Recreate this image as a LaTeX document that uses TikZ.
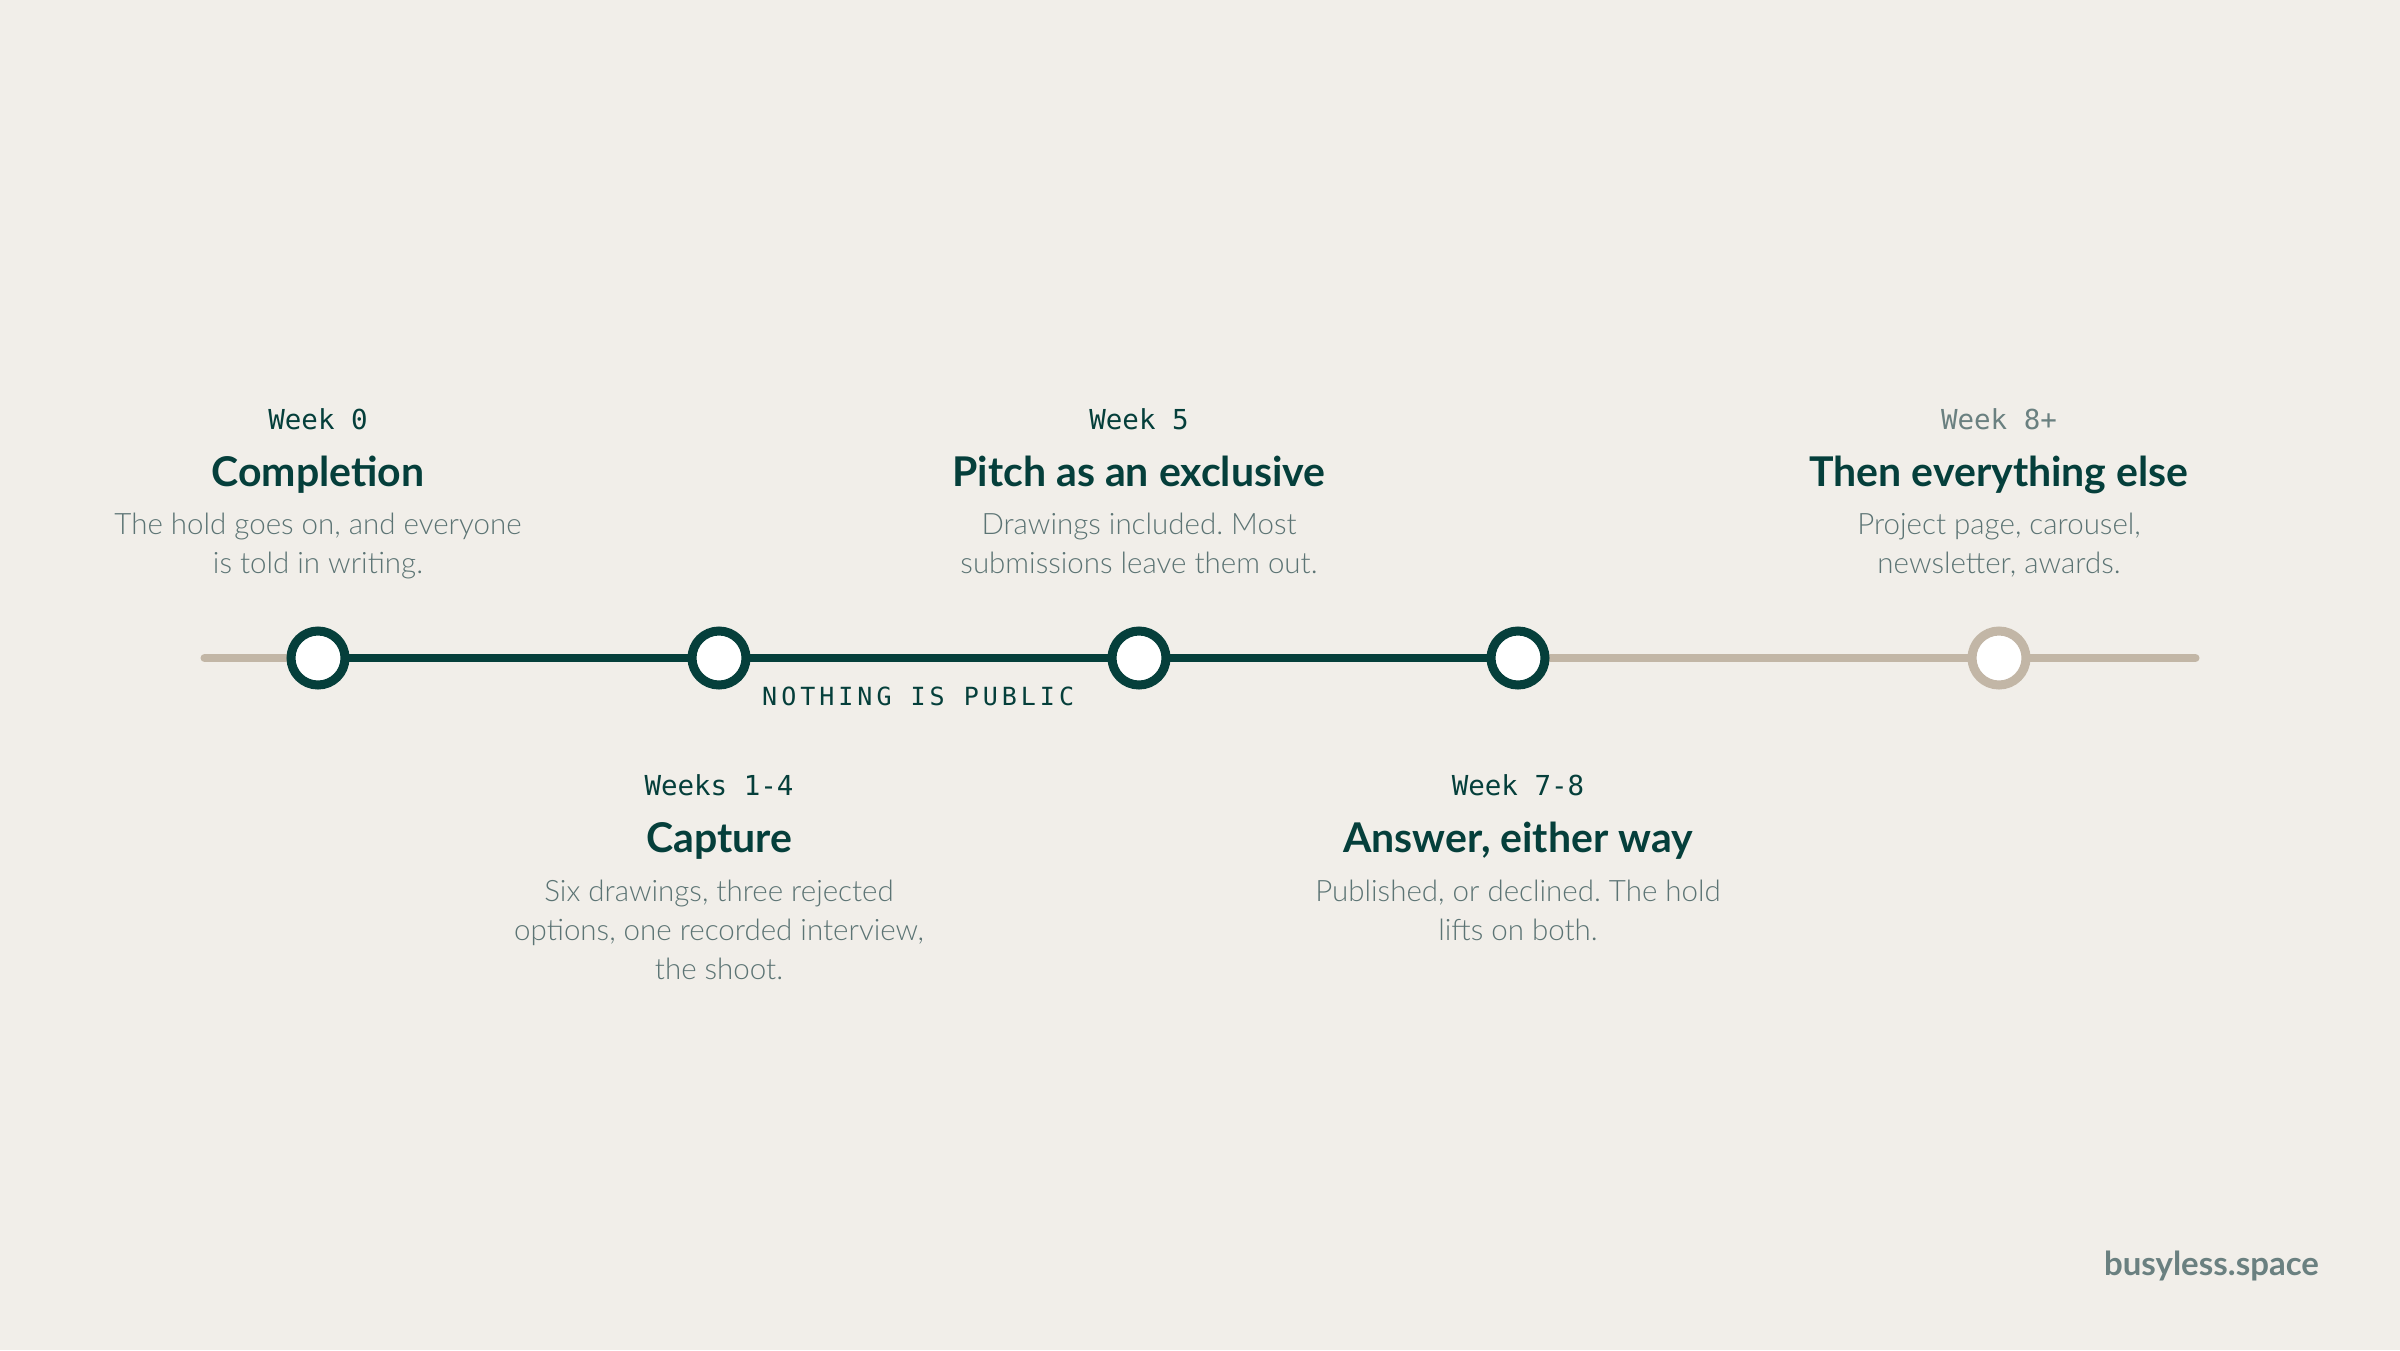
\documentclass[tikz,border=0pt]{standalone}
\usepackage{fontspec}
\setmainfont{Lato}
\frenchspacing
\newfontfamily\titlefont{Lato Bold}
\newfontfamily\bodyfont{Lato Light}
\newfontfamily\weekfont{DejaVu Sans Mono}
\newfontfamily\capsfont{DejaVu Sans Mono}[LetterSpace=16]
\definecolor{bg}{HTML}{F1EEE9}
\definecolor{teal}{HTML}{053F3B}
\definecolor{beige}{HTML}{C2B6A6}
\definecolor{muted}{HTML}{6A8080}
\definecolor{bodygray}{HTML}{5C7474}
\pgfdeclarelayer{back}
\pgfdeclarelayer{lines}
\pgfsetlayers{back,lines,main}
\tikzset{
  milestone/.style={circle,draw=teal,line width=9pt,fill=white,minimum size=54pt,inner sep=0pt},
  futurestone/.style={milestone,draw=beige},
  donetrack/.style={draw=teal,line width=8pt},
  opentrack/.style={draw=beige,line width=8pt,line cap=round},
  week/.style={anchor=base,text=teal,font=\weekfont\fontsize{27.5}{32}\selectfont,inner sep=0pt},
  weekmuted/.style={week,text=muted},
  title/.style={anchor=base,text=teal,font=\titlefont\fontsize{41}{46}\selectfont,inner sep=0pt},
  body/.style={anchor=base,text=bodygray,font=\bodyfont\frenchspacing\fontsize{29.5}{34}\selectfont,inner sep=0pt},
  capsnote/.style={anchor=base west,text=teal,font=\capsfont\fontsize{25}{30}\selectfont,inner sep=0pt},
  brand/.style={anchor=base east,text=muted,font=\titlefont\fontsize{33}{38}\selectfont,inner sep=0pt}
}
\begin{document}
\begin{tikzpicture}[x=1pt,y=-1pt]
\begin{pgfonlayer}{back}
\fill[bg] (0,0) rectangle (2400,1350);
\end{pgfonlayer}
\useasboundingbox (0,0) rectangle (2400,1350);

% milestones
\node[milestone] (c0) at (318,658) {};
\node[milestone] (c1) at (719,658) {};
\node[milestone] (c2) at (1139,658) {};
\node[milestone] (c3) at (1518,658) {};
\node[futurestone] (c4) at (1999,658) {};
\coordinate (tstart) at (204.5,658);
\coordinate (tend) at (2195.5,658);

\begin{pgfonlayer}{lines}
\draw[opentrack] (tstart) -- (c0.center);
\draw[opentrack] (c3.center) -- (c4.center);
\draw[opentrack] (c4.center) -- (tend);
\draw[donetrack] (c0.center) -- (c1.center);
\draw[donetrack] (c1.center) -- (c2.center);
\draw[donetrack] (c2.center) -- (c3.center);
\end{pgfonlayer}

\node[capsnote] (note) at (762,705) {NOTHING IS PUBLIC};

% Week 0
\node[week] (w0) at (318,429) {Week 0};
\node[title] (t0) at (318,486) {Completion};
\node[body] (b0a) at (318,534) {The hold goes on, and everyone};
\node[body] (b0b) at (318,573) {is told in writing.};

% Week 5
\node[week] (w2) at (1139,429) {Week 5};
\node[title] (t2) at (1139,486) {Pitch as an exclusive};
\node[body] (b2a) at (1139,534) {Drawings included. Most};
\node[body] (b2b) at (1139,573) {submissions leave them out.};

% Week 8+
\node[weekmuted] (w4) at (1999,429) {Week 8+};
\node[title] (t4) at (1999,486) {Then everything else};
\node[body] (b4a) at (1999,534) {Project page, carousel,};
\node[body] (b4b) at (1999,573) {newsletter, awards.};

% Weeks 1-4
\node[week] (w1) at (719,795) {Weeks 1-4};
\node[title] (t1) at (719,852) {Capture};
\node[body] (b1a) at (719,901) {Six drawings, three rejected};
\node[body] (b1b) at (719,940) {options, one recorded interview,};
\node[body] (b1c) at (719,979) {the shoot.};

% Week 7-8
\node[week] (w3) at (1518,795) {Week 7-8};
\node[title] (t3) at (1518,852) {Answer, either way};
\node[body] (b3a) at (1518,901) {Published, or declined. The hold};
\node[body] (b3b) at (1518,940) {lifts on both.};

\node[brand] (brandname) at (2319,1275) {busyless.space};
\end{tikzpicture}
\end{document}
